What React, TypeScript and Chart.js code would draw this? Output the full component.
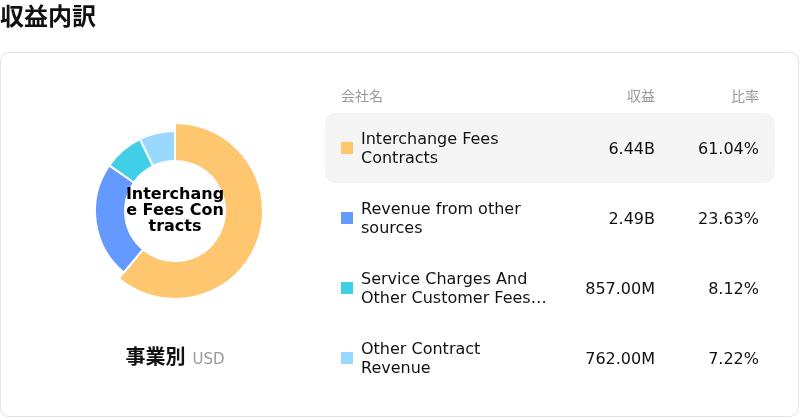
import { useEffect, useRef } from "react";
import { Chart, registerables } from "chart.js";

Chart.register(...registerables);

const categories = [
  "Interchange Fees Contracts",
  "Revenue from other sources",
  "Service Charges And Other Customer Fees Contracts",
  "Other Contract Revenue",
];
// revenue in billions of USD
const revenue = [6.44, 2.49, 0.857, 0.762];
const shares = [61.04, 23.63, 8.12, 7.22];
const colors = ["#FFC670", "#6499FF", "#40CFE6", "#99D8FF"];

const FONT = '"DejaVu Sans", "Noto Sans CJK JP", sans-serif';
const CJK = '"Noto Sans CJK JP", sans-serif';

function fmtRevenue(v: number) {
  return v >= 1 ? v.toFixed(2) + "B" : (v * 1000).toFixed(2) + "M";
}

// enlarge the selected slice, like a highlighted segment
const highlightPlugin = {
  id: "highlight",
  afterDatasetsUpdate(chart: any) {
    const arc: any = chart.getDatasetMeta(0).data[0];
    if (arc) arc.outerRadius = 88;
  },
};

function Donut() {
  const ref = useRef<HTMLCanvasElement>(null);

  useEffect(() => {
    if (!ref.current) return;
    const chart = new Chart(ref.current, {
      type: "doughnut",
      data: {
        labels: categories,
        datasets: [
          {
            data: revenue,
            backgroundColor: colors,
            borderColor: "#fff",
            borderWidth: 2,
          },
        ],
      },
      options: {
        responsive: false,
        animation: false,
        events: [],
        radius: 80,
        cutout: "62.5%",
        plugins: {
          legend: { display: false },
          tooltip: { enabled: false },
        },
      },
      plugins: [highlightPlugin],
    });
    return () => chart.destroy();
  }, []);

  return <canvas ref={ref} width={200} height={200} style={{ width: 200, height: 200 }} />;
}

export default function App() {
  const rowTop = 113;
  const rowH = 70;
  const header = { position: "absolute" as const, top: 86, fontSize: 14, color: "#999", lineHeight: "18px", fontFamily: CJK };
  return (
    <div style={{ position: "fixed", inset: 0, background: "#fff", fontFamily: FONT, color: "#111" }}>
      <div
        style={{
          position: "absolute",
          left: 0,
          top: 0,
          lineHeight: "30px",
          fontSize: 24,
          fontWeight: 700,
          fontFamily: CJK,
        }}
      >
        収益内訳
      </div>

      <div
        style={{
          position: "absolute",
          left: 0,
          top: 52,
          width: 797,
          height: 363,
          border: "1px solid #e3e3ec",
          borderRadius: 9,
        }}
      />

      <div style={{ position: "absolute", left: 75, top: 111 }}>
        <Donut />
      </div>
      <div
        style={{
          position: "absolute",
          left: 125,
          top: 186,
          width: 100,
          textAlign: "center",
          fontSize: 16,
          fontWeight: 700,
          lineHeight: "16px",
          wordBreak: "break-all",
          color: "#000",
        }}
      >
        {categories[0]}
      </div>

      <div
        style={{
          position: "absolute",
          left: 75,
          top: 343,
          width: 200,
          textAlign: "center",
          lineHeight: "26px",
        }}
      >
        <span style={{ fontSize: 20, fontWeight: 700, fontFamily: CJK }}>事業別</span>
        <span style={{ fontSize: 15, color: "#999", marginLeft: 7 }}>USD</span>
      </div>

      <div style={{ ...header, left: 341 }}>会社名</div>
      <div style={{ ...header, right: 800 - 655 }}>収益</div>
      <div style={{ ...header, right: 800 - 759 }}>比率</div>

      {categories.map((name, i) => (
        <div
          key={name}
          style={{
            position: "absolute",
            left: 325,
            top: rowTop + i * rowH,
            width: 450,
            height: rowH,
            borderRadius: 10,
            background: i === 0 ? "#f5f5f5" : "transparent",
            fontSize: 16,
          }}
        >
          <div
            style={{
              position: "absolute",
              left: 16,
              top: 29,
              width: 12,
              height: 12,
              background: colors[i],
            }}
          />
          <div
            style={{
              position: "absolute",
              left: 36,
              top: 16,
              width: 190,
              lineHeight: "19px",
              display: "-webkit-box",
              WebkitLineClamp: 2,
              WebkitBoxOrient: "vertical",
              overflow: "hidden",
            }}
          >
            {name}
          </div>
          <div style={{ position: "absolute", right: 775 - 655, top: 26, lineHeight: "20px" }}>
            {fmtRevenue(revenue[i])}
          </div>
          <div style={{ position: "absolute", right: 775 - 759, top: 26, lineHeight: "20px" }}>
            {shares[i].toFixed(2)}%
          </div>
        </div>
      ))}
    </div>
  );
}
